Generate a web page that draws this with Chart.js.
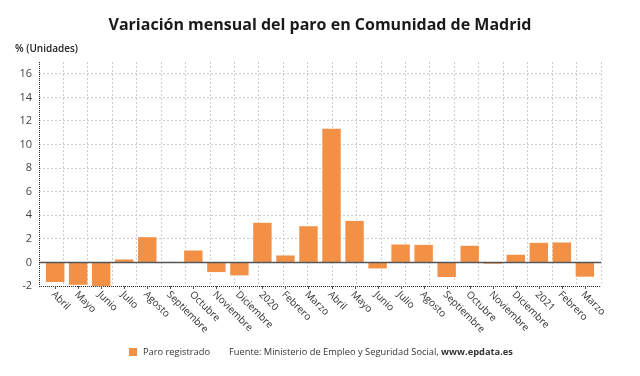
<!DOCTYPE html>
<html>
<head>
<meta charset="utf-8">
<script src="https://cdn.jsdelivr.net/npm/chart.js@4/dist/chart.umd.min.js"></script>
<style>
html,body{margin:0;padding:0;background:#fff;}
#wrap{width:640px;height:376px;position:relative;}
</style>
</head>
<body>
<div id="wrap"><canvas id="c" width="640" height="376"></canvas></div>
<script>
const title = 'Variación mensual del paro en Comunidad de Madrid';
const yTitle = '% (Unidades)';
const categories = ['Abril','Mayo','Junio','Julio','Agosto','Septiembre','Octubre','Noviembre','Diciembre','2020','Febrero','Marzo','Abril','Mayo','Junio','Julio','Agosto','Septiembre','Octubre','Noviembre','Diciembre','2021','Febrero','Marzo'];
const paroRegistrado = [-1.66,-1.9,-2.0,0.25,2.14,0.03,1.01,-0.82,-1.1,3.36,0.59,3.07,11.33,3.52,-0.51,1.52,1.49,-1.24,1.41,-0.11,0.65,1.66,1.69,-1.21];
const seriesLabel = 'Paro registrado';
const sourceText = 'Fuente: Ministerio de Empleo y Seguridad Social, ';
const sourceLink = 'www.epdata.es';
const yMin = -2, yMax = 17, yStep = 2;

const FONT = "'Open Sans', 'Noto Sans', sans-serif";
const ORANGE = '#f29146';

const decor = {
  id: 'decor',
  afterDatasetsDraw(chart) {
    const ctx = chart.ctx;
    const y = chart.scales.y;
    const area = chart.chartArea;
    ctx.save();
    const y0 = Math.round(y.getPixelForValue(0)) + 0.5;
    ctx.strokeStyle = '#555';
    ctx.lineWidth = 1.5;
    ctx.beginPath();
    ctx.moveTo(area.left, y0);
    ctx.lineTo(area.right, y0);
    ctx.stroke();
    ctx.lineWidth = 1;
    ctx.strokeStyle = '#333';
    ctx.setLineDash([1, 1]);
    ctx.beginPath();
    ctx.moveTo(Math.round(area.left) + 0.5, area.top);
    ctx.lineTo(Math.round(area.left) + 0.5, area.bottom);
    ctx.moveTo(area.left, Math.round(area.bottom) + 0.5);
    ctx.lineTo(area.right, Math.round(area.bottom) + 0.5);
    ctx.stroke();
    ctx.restore();
  },
  afterDraw(chart) {
    const ctx = chart.ctx;
    const x = chart.scales.x;
    const area = chart.chartArea;
    ctx.save();
    ctx.fillStyle = '#1a1a1a';
    ctx.font = "bold 16px " + FONT;
    ctx.textAlign = 'center';
    ctx.textBaseline = 'middle';
    ctx.fillText(title, 320, 25);
    ctx.font = "600 10px " + FONT;
    ctx.textAlign = 'left';
    ctx.fillStyle = '#222';
    ctx.fillText(yTitle, 15, 49);
    ctx.strokeStyle = '#555';
    ctx.lineWidth = 1;
    ctx.font = "10px " + FONT;
    ctx.fillStyle = '#333';
    categories.forEach((lab, i) => {
      const px = x.getPixelForValue(i);
      ctx.beginPath();
      ctx.moveTo(Math.round(px) + 0.5, area.bottom);
      ctx.lineTo(Math.round(px) + 0.5, area.bottom + 3);
      ctx.stroke();
      ctx.save();
      ctx.translate(px - 2, area.bottom + 7);
      ctx.rotate(Math.PI / 4);
      ctx.textAlign = 'left';
      ctx.textBaseline = 'middle';
      ctx.fillText(lab, 0, 0);
      ctx.restore();
    });
    ctx.fillStyle = chart.data.datasets[0].backgroundColor;
    ctx.fillRect(129, 348, 8, 8);
    ctx.fillStyle = '#333';
    ctx.font = "9.3px " + FONT;
    ctx.textBaseline = 'middle';
    ctx.textAlign = 'left';
    ctx.fillText(chart.data.datasets[0].label, 143, 352);
    ctx.fillText(sourceText, 229, 352);
    const w = ctx.measureText(sourceText).width;
    ctx.font = "bold 9.3px " + FONT;
    ctx.fillText(sourceLink, 229 + w, 352);
    ctx.restore();
  }
};

new Chart(document.getElementById('c'), {
  type: 'bar',
  data: {
    datasets: [{
      label: seriesLabel,
      data: paroRegistrado.map((v, i) => ({x: i, y: v})),
      backgroundColor: ORANGE,
      borderWidth: 0,
      barPercentage: 0.8,
      categoryPercentage: 1.0
    }]
  },
  options: {
    responsive: false,
    animation: false,
    layout: {padding: {top: 62, left: 0, right: 39, bottom: 90}},
    plugins: {legend: {display: false}, tooltip: {enabled: false}, title: {display: false}},
    scales: {
      x: {
        type: 'linear',
        position: 'bottom',
        offset: false,
        min: -0.7,
        max: categories.length - 0.3,
        grid: {display: false, offset: false},
        ticks: {display: false},
        border: {display: false},
        afterFit(s) { s.height = 0; }
      },
      xg: {
        type: 'linear',
        position: 'bottom',
        offset: false,
        min: 0,
        max: categories.length - 1,
        ticks: {display: false, stepSize: 1},
        grid: {display: true, offset: false, color: '#cccccc', lineWidth: 1, drawTicks: false},
        border: {display: false, dash: [2, 2]},
        afterFit(s) { s.height = 0; }
      },
      y: {
        min: yMin,
        max: yMax,
        ticks: {stepSize: yStep, includeBounds: false, padding: 7, color: '#444', font: {family: FONT, size: 11}},
        grid: {color: '#cccccc', lineWidth: 1, drawTicks: false},
        border: {display: false, dash: [2, 2]},
        afterFit(s) { s.width = 39; }
      }
    }
  },
  plugins: [decor]
});
</script>
</body>
</html>
